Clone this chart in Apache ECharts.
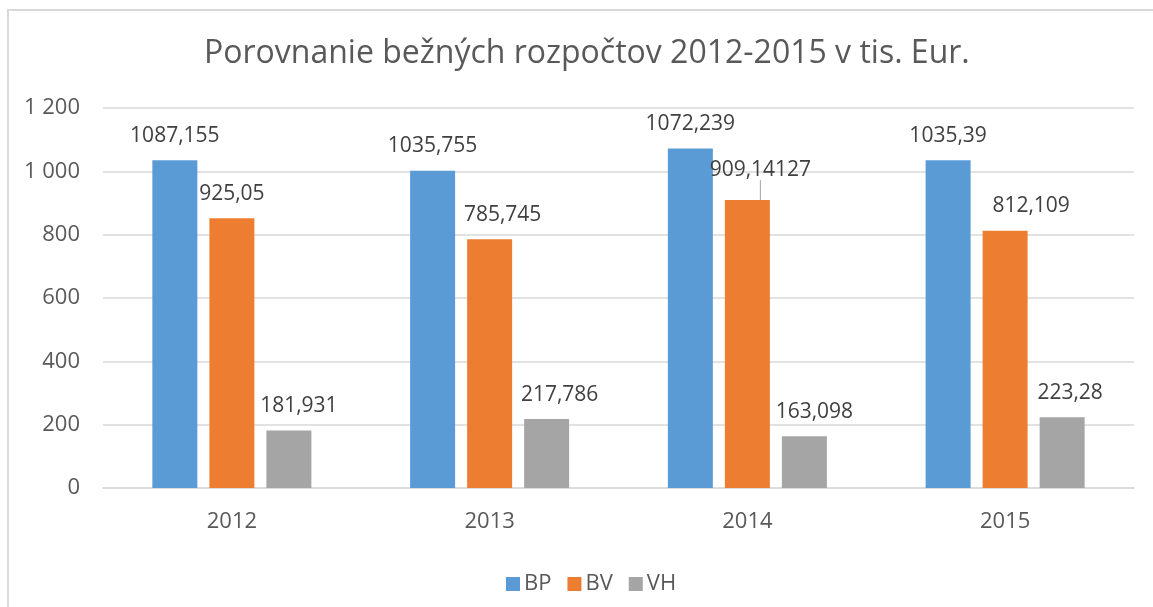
<!DOCTYPE html>
<html>
<head>
<meta charset="utf-8">
<script src="https://cdn.jsdelivr.net/npm/echarts@6/dist/echarts.min.js"></script>
<style>
html,body{margin:0;padding:0;background:#fff;}
#chart{width:1153px;height:607px;}
</style>
</head>
<body>
<div id="chart"></div>
<script>
const titleText = 'Porovnanie bežných rozpočtov 2012-2015 v tis. Eur.';
const categories = ['2012', '2013', '2014', '2015'];
const seriesNames = ['BP', 'BV', 'VH'];
const valuesBP = [1035, 1002, 1072.239, 1035.39];
const valuesBV = [852, 785.745, 909.14127, 812.109];
const valuesVH = [181.931, 217.786, 163.098, 223.28];
const labelsBP = ['1087,155', '1035,755', '1072,239', '1035,39'];
const labelsBV = ['925,05', '785,745', '909,14127', '812,109'];
const labelsVH = ['181,931', '217,786', '163,098', '223,28'];
const yTicks = [0, 200, 400, 600, 800, 1000, 1200];

// label nudges (styling only)
const labelDx = [[0, 0, 0, 0], [0, 13, 13, 26], [10, 13, 10, 8]];
const labelDy = [[0, 0, 0, 0], [0, 0, -6, 0], [0, 0, 0, 0]];

const colors = ['#5B9BD5', '#ED7D31', '#A5A5A5'];
const allValues = [valuesBP, valuesBV, valuesVH];
const allLabels = [labelsBP, labelsBV, labelsVH];
const FONT = '"Open Sans", sans-serif';

function fmtTick(v) {
  const s = String(Math.round(v));
  return s.replace(/\B(?=(\d{3})+(?!\d))/g, ' ');
}

const chart = echarts.init(document.getElementById('chart'), null, {renderer: 'canvas'});
const series = seriesNames.map((name, si) => ({
  name: name,
  type: 'bar',
  barWidth: 45,
  barGap: '26.7%',
  itemStyle: {color: colors[si]},
  data: allValues[si].map((v, i) => {
    const item = {value: v};
    if (labelDy[si][i] !== 0) {
      item.labelLine = {show: true, lineStyle: {color: '#A6A6A6', width: 1}};
    }
    return item;
  }),
  label: {
    show: true,
    position: 'top',
    distance: 14,
    color: '#404040',
    fontFamily: FONT,
    fontSize: 21,
    formatter: p => allLabels[si][p.dataIndex]
  },
  labelLine: {show: false},
  labelLayout: p => ({dx: labelDx[si][p.dataIndex], dy: labelDy[si][p.dataIndex]})
}));

chart.setOption({
  animation: false,
  backgroundColor: '#fff',
  color: colors,
  textStyle: {fontFamily: FONT},
  graphic: [{
    type: 'rect',
    shape: {x: 8, y: 10, width: 1300, height: 800},
    style: {fill: 'none', stroke: '#D9D9D9', lineWidth: 2},
    silent: true,
    z: -10
  }],
  title: {
    text: titleText,
    left: 199,
    top: 33,
    textStyle: {fontFamily: FONT, fontSize: 32, fontWeight: 'normal', color: '#595959'}
  },
  legend: {
    data: seriesNames,
    left: 506,
    top: 573,
    padding: 0,
    itemWidth: 14,
    itemHeight: 14,
    itemGap: 16,
    icon: 'rect',
    textStyle: {fontFamily: FONT, fontSize: 22, color: '#595959', padding: [0, 0, 0, -1]}
  },
  grid: {left: 103, right: 19, top: 108, bottom: 119, containLabel: false},
  xAxis: {
    type: 'category',
    data: categories,
    axisLine: {show: true, lineStyle: {color: '#D9D9D9', width: 1.5}},
    axisTick: {show: false},
    axisLabel: {fontFamily: FONT, fontSize: 22, color: '#595959', margin: 23}
  },
  yAxis: {
    type: 'value',
    min: yTicks[0],
    max: yTicks[yTicks.length - 1],
    interval: yTicks[1] - yTicks[0],
    axisLine: {show: false},
    axisTick: {show: false},
    splitLine: {lineStyle: {color: '#D9D9D9', width: 1.5}},
    axisLabel: {fontFamily: FONT, fontSize: 22, color: '#595959', margin: 23, formatter: fmtTick}
  },
  series: series
});
</script>
</body>
</html>
